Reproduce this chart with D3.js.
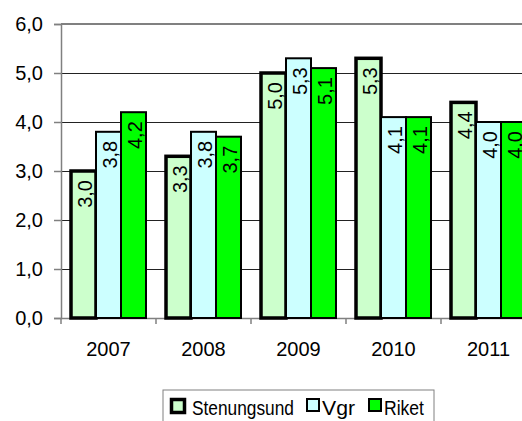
<!DOCTYPE html>
<html>
<head>
<meta charset="utf-8">
<script src="https://cdn.jsdelivr.net/npm/d3@7"></script>
<style>
  body { margin: 0; background: #fff; }
  svg { display: block; font-family: "Liberation Sans", Arial, sans-serif; }
</style>
</head>
<body>
<svg id="chart" width="522" height="421"></svg>
<script>
// data
const years = ["2007", "2008", "2009", "2010", "2011"];
const seriesNames = ["Stenungsund", "Vgr", "Riket"];
const stenungsund = [3.0, 3.3, 5.0, 5.3, 4.4];
const vgr = [3.8, 3.8, 5.3, 4.1, 4.0];
const riket = [4.2, 3.7, 5.1, 4.1, 4.0];
const yTicks = [0, 1, 2, 3, 4, 5, 6];

const colors = ["#ccffcc", "#ccffff", "#00ff00"];
const strokeW = [3.5, 2, 2];
const FONT = "'Liberation Sans', Arial, sans-serif";

const allSeries = [stenungsund, vgr, riket];
const rows = years.map((y, i) => ({
  year: y,
  values: seriesNames.map((s, j) => ({ name: s, idx: j, value: allSeries[j][i] }))
}));

const svg = d3.select("#chart");
const margin = { top: 24, left: 61 };
const plotH = 294;
const catW = 95;

const fmt = v => d3.format(".1f")(v).replace(".", ",");

const x0 = d3.scaleBand().domain(years)
  .range([margin.left, margin.left + catW * years.length]).padding(0);
const x1 = d3.scaleBand().domain(seriesNames)
  .range([0, x0.bandwidth()]).paddingInner(0).paddingOuter(0.4);
const y = d3.scaleLinear().domain([0, 6]).range([margin.top + plotH, margin.top]);

// gridlines
svg.append("g").selectAll("line")
  .data(yTicks.filter(d => d > 0))
  .enter().append("line")
  .attr("x1", margin.left).attr("x2", 522)
  .attr("y1", d => y(d)).attr("y2", d => y(d))
  .attr("stroke", d => d === 6 ? "#808080" : "#222")
  .attr("stroke-width", d => d === 6 ? 1.5 : 1)
  .attr("shape-rendering", "crispEdges");

// y axis
const yAxis = svg.append("g")
  .attr("transform", "translate(" + margin.left + ",0)")
  .call(d3.axisLeft(y).tickValues(yTicks).tickFormat(fmt).tickSize(7).tickPadding(11));
yAxis.select(".domain").attr("stroke", "#808080").attr("stroke-width", 1.5);
yAxis.selectAll(".tick line").attr("stroke", "#808080").attr("stroke-width", 1.5);
yAxis.selectAll("text").attr("font-size", 20).attr("fill", "#000").attr("font-family", FONT);

// x axis
const xAxis = svg.append("g")
  .attr("transform", "translate(0," + y(0) + ")")
  .call(d3.axisBottom(x0).tickSize(0).tickPadding(24));
xAxis.select(".domain").attr("stroke", "#808080").attr("stroke-width", 1.5);
xAxis.selectAll("text").attr("font-size", 20).attr("fill", "#000").attr("font-family", FONT);
// category separator ticks
svg.append("g").selectAll("line")
  .data(years)
  .enter().append("line")
  .attr("x1", d => x0(d)).attr("x2", d => x0(d))
  .attr("y1", y(0)).attr("y2", y(0) + 6)
  .attr("stroke", "#808080").attr("stroke-width", 1.5);

// bars
const groups = svg.append("g").selectAll("g")
  .data(rows)
  .enter().append("g")
  .attr("transform", d => "translate(" + x0(d.year) + ",0)");

groups.selectAll("rect")
  .data(d => d.values)
  .enter().append("rect")
  .attr("x", d => x1(d.name))
  .attr("width", x1.bandwidth())
  .attr("y", d => y(d.value))
  .attr("height", d => y(0) - y(d.value))
  .attr("fill", d => colors[d.idx])
  .attr("stroke", "#000")
  .attr("stroke-width", d => strokeW[d.idx]);

groups.selectAll("text")
  .data(d => d.values)
  .enter().append("text")
  .attr("transform", d => "translate(" + (x1(d.name) + x1.bandwidth() / 2 + 8) + "," + (y(d.value) + 9) + ") rotate(-90)")
  .attr("text-anchor", "end")
  .attr("font-size", 20)
  .attr("font-family", FONT)
  .text(d => fmt(d.value));

// legend
const legend = svg.append("g").attr("transform", "translate(163,390)");
legend.append("rect")
  .attr("x", 0).attr("y", 0).attr("width", 271).attr("height", 50)
  .attr("fill", "#fff").attr("stroke", "#808080").attr("stroke-width", 1);

const legendX = [7, 143, 205];
const item = legend.selectAll(".item")
  .data(seriesNames)
  .enter().append("g")
  .attr("class", "item")
  .attr("transform", (d, i) => "translate(" + legendX[i] + ",0)");
item.append("rect")
  .attr("x", (d, i) => i === 0 ? 1.5 : 1)
  .attr("y", (d, i) => i === 0 ? 9.5 : 9)
  .attr("width", (d, i) => i === 0 ? 13 : 12)
  .attr("height", (d, i) => i === 0 ? 13 : 12)
  .attr("fill", (d, i) => colors[i])
  .attr("stroke", "#000")
  .attr("stroke-width", (d, i) => strokeW[i]);
const legendW = [102, 33, 40];
item.append("text")
  .attr("x", (d, i) => i === 0 ? 22 : 16)
  .attr("y", 25)
  .attr("font-size", 20)
  .attr("font-family", FONT)
  .attr("textLength", (d, i) => legendW[i])
  .attr("lengthAdjust", "spacingAndGlyphs")
  .text(d => d);
</script>
</body>
</html>
